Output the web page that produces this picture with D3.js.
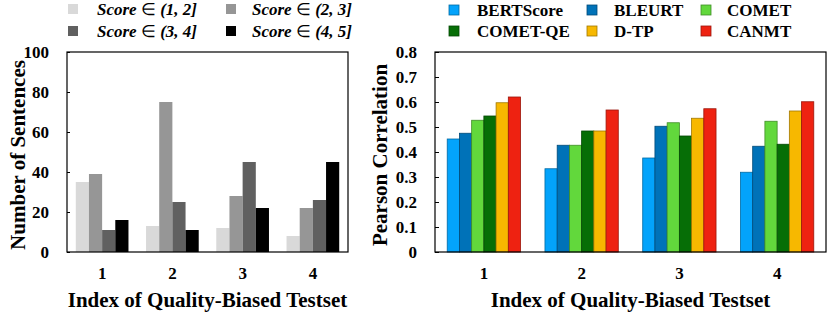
<!DOCTYPE html>
<html lang="en">
<head>
<meta charset="UTF-8">
<title>Quality-biased testsets</title>
<script src="https://d3js.org/d3.v7.min.js"></script>
<style>
  body { margin: 0; background: #fff; }
  svg text { font-family: "Liberation Serif", "Times New Roman", serif; font-weight: bold; }
</style>
</head>
<body>
<svg width="830" height="312"></svg>
<script>
// data
let testsets = ['1', '2', '3', '4'];
let scoreBins = ['(1, 2]', '(2, 3]', '(3, 4]', '(4, 5]'];
let sentenceCounts = [
    [35, 39, 11, 16],
    [13, 75, 25, 11],
    [12, 28, 45, 22],
    [8, 22, 26, 45]
];
let leftTicks = [0, 20, 40, 60, 80, 100];

let metrics = ['BERTScore', 'BLEURT', 'COMET', 'COMET-QE', 'D-TP', 'CANMT'];
let pearson = [
    [0.452, 0.475, 0.527, 0.544, 0.597, 0.620],
    [0.333, 0.427, 0.427, 0.484, 0.484, 0.568],
    [0.376, 0.503, 0.517, 0.464, 0.535, 0.573],
    [0.319, 0.423, 0.523, 0.431, 0.564, 0.601]
];
let rightTicks = [0, 0.1, 0.2, 0.3, 0.4, 0.5, 0.6, 0.7, 0.8];

let greys = ['#d9d9d9', '#969696', '#606060', '#000000'];
let colors = ['#03a3fb', '#0072b8', '#62d83c', '#066e06', '#f7b800', '#ee2211'];

let svg = d3.select('svg');

function panel(opt) {
    let g = svg.append('g');
    let x0 = d3.scaleBand().domain(testsets).range([opt.left, opt.right])
        .paddingInner(0.25).paddingOuter(0.125);
    let x1 = d3.scaleBand().domain(d3.range(opt.keys.length)).range([0, x0.bandwidth()]);
    let y = d3.scaleLinear().domain(opt.domain).range([252, 52]);

    // bars
    g.selectAll('g.grp')
        .data(opt.values)
        .join('g')
        .attr('transform', (d, i) => `translate(${x0(testsets[i])},0)`)
        .selectAll('rect')
        .data(d => d)
        .join('rect')
        .attr('x', (d, i) => x1(i))
        .attr('width', x1.bandwidth())
        .attr('y', d => y(d))
        .attr('height', d => y(0) - y(d))
        .style('fill', (d, i) => opt.colors[i])
        .style('stroke', (d, i) => opt.stroke ? d3.color(opt.colors[i]).darker(1.2) : 'none')
        .style('stroke-width', 0.8);

    // y axis with inner ticks
    let ya = g.append('g')
        .attr('transform', `translate(${opt.left},0)`)
        .call(d3.axisLeft(y).tickValues(opt.ticks).tickFormat(opt.fmt)
            .tickSizeInner(-opt.tick).tickSizeOuter(0).tickPadding(18));
    ya.attr('font-family', null).attr('font-size', 17);
    ya.select('.domain').remove();
    ya.selectAll('line').attr('stroke', '#000');

    // x axis labels
    let xa = g.append('g')
        .attr('transform', 'translate(0,252)')
        .call(d3.axisBottom(x0).tickSize(0).tickPadding(15));
    xa.attr('font-family', null).attr('font-size', 17);
    xa.select('.domain').remove();

    // frame
    g.append('rect')
        .attr('x', opt.left).attr('y', 52)
        .attr('width', opt.right - opt.left).attr('height', 200)
        .style('fill', 'none').style('stroke', '#000').style('stroke-width', 1.2);

    g.append('text')
        .attr('x', (opt.left + opt.right) / 2).attr('y', 307)
        .attr('text-anchor', 'middle')
        .style('font-size', '21px')
        .text('Index of Quality-Biased Testset');

    g.append('text')
        .attr('transform', `translate(${opt.titleX},155) rotate(-90)`)
        .attr('text-anchor', 'middle')
        .style('font-size', '21px')
        .text(opt.title);
    return g;
}

panel({
    left: 67, right: 348, domain: [0, 100], ticks: leftTicks, fmt: d3.format('d'),
    values: sentenceCounts, keys: scoreBins, colors: greys, stroke: false, tick: 3,
    title: 'Number of Sentences', titleX: 25
});

panel({
    left: 435, right: 826, domain: [0, 0.8], ticks: rightTicks,
    fmt: d => d === 0 ? '0' : d3.format('.1f')(d),
    values: pearson, keys: metrics, colors: colors, stroke: true, tick: 4,
    title: 'Pearson Correlation', titleX: 387
});

// left legend
let legL = svg.append('g');
scoreBins.forEach((b, i) => {
    let sx = [68, 226][i % 2], tx = [97, 252][i % 2], yy = [9, 31][Math.floor(i / 2)];
    legL.append('rect').attr('x', sx).attr('y', yy - 5).attr('width', 10).attr('height', 10)
        .style('fill', greys[i]);
    let t = legL.append('text').attr('x', tx).attr('y', yy + 6)
        .style('font-size', '17px').style('font-style', 'italic');
    t.append('tspan').text('Score ');
    t.append('tspan').style('font-style', 'normal').style('font-weight', 'normal').text('∈');
    t.append('tspan').text(' ' + b);
});

// right legend
let legR = svg.append('g');
metrics.forEach((m, i) => {
    let sx = [449, 587, 701][i % 3], tx = [477, 614, 727][i % 3], yy = [10, 31][Math.floor(i / 3)];
    legR.append('rect').attr('x', sx).attr('y', yy - 5).attr('width', 10).attr('height', 10)
        .style('fill', colors[i]).style('stroke', d3.color(colors[i]).darker(1.2)).style('stroke-width', 0.8);
    legR.append('text').attr('x', tx).attr('y', yy + 6)
        .style('font-size', '17px').text(m);
});
</script>
</body>
</html>
